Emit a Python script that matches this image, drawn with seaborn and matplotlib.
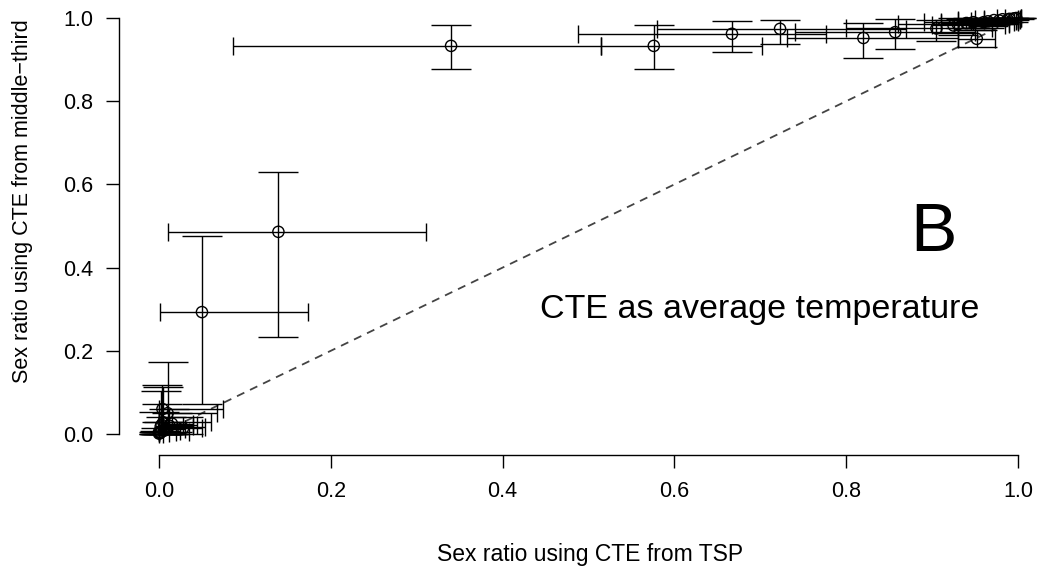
import numpy as np
import pandas as pd
import matplotlib
matplotlib.use("Agg")
import matplotlib.pyplot as plt
import seaborn as sns

# sex ratio estimates (x: CTE from TSP, y: CTE from middle-third) with lower/upper limits
sr_tsp = [0.340, 0.576, 0.667, 0.723, 0.820, 0.857,
          0.905, 0.930, 0.948, 0.960, 0.972, 0.982, 0.990, 0.995, 0.998, 0.952,
          0.925, 0.940, 0.965, 0.978, 0.988,
          0.139, 0.050,
          0.010, 0.003, 0.005, 0.002, 0.000, 0.008, 0.001, 0.028, 0.004, 0.012, 0.000,
          0.006, 0.015, 0.002]
sr_tsp_lo = [0.086, 0.515, 0.488, 0.580, 0.731, 0.740,
             0.800, 0.860, 0.890, 0.910, 0.930, 0.950, 0.960, 0.975, 0.985, 0.930,
             0.900, 0.910, 0.930, 0.945, 0.960,
             0.011, 0.001,
             0.000, 0.000, 0.000, 0.000, 0.000, 0.000, 0.000, 0.005, 0.000, 0.000, 0.000,
             0.000, 0.002, 0.000]
sr_tsp_hi = [0.515, 0.702, 0.776, 0.870, 0.930, 0.950,
             0.970, 0.990, 0.995, 1.000, 1.000, 1.000, 1.002, 1.003, 1.003, 0.973,
             0.985, 0.990, 0.998, 1.000, 1.002,
             0.311, 0.173,
             0.068, 0.044, 0.060, 0.054, 0.035, 0.030, 0.012, 0.050, 0.075, 0.040, 0.005,
             0.025, 0.040, 0.020]
sr_mid = [0.933, 0.933, 0.962, 0.974, 0.952, 0.966,
          0.975, 0.985, 0.990, 0.990, 0.995, 0.997, 0.998, 0.999, 1.000, 0.950,
          0.982, 0.988, 0.992, 0.994, 0.996,
          0.486, 0.293,
          0.050, 0.022, 0.028, 0.018, 0.005, 0.012, 0.002, 0.014, 0.060, 0.020, 0.001,
          0.008, 0.025, 0.004]
sr_mid_lo = [0.878, 0.877, 0.918, 0.937, 0.904, 0.925,
             0.945, 0.960, 0.970, 0.975, 0.985, 0.990, 0.995, 0.997, 0.999, 0.930,
             0.965, 0.975, 0.980, 0.985, 0.990,
             0.233, 0.072,
             0.000, 0.000, 0.000, 0.000, 0.000, 0.000, 0.000, 0.000, 0.030, 0.000, 0.000,
             0.000, 0.005, 0.000]
sr_mid_hi = [0.983, 0.982, 0.993, 0.995, 0.988, 0.997,
             0.995, 1.000, 1.000, 1.000, 1.000, 1.000, 1.000, 1.000, 1.000, 0.970,
             0.995, 0.998, 1.000, 1.000, 1.000,
             0.630, 0.476,
             0.173, 0.118, 0.113, 0.103, 0.053, 0.040, 0.008, 0.040, 0.072, 0.060, 0.005,
             0.030, 0.050, 0.015]

df = pd.DataFrame({"x": sr_tsp, "xlo": sr_tsp_lo, "xhi": sr_tsp_hi,
                   "y": sr_mid, "ylo": sr_mid_lo, "yhi": sr_mid_hi})

sns.set_style("ticks")
plt.rcParams["font.family"] = ["Liberation Sans", "DejaVu Sans"]
plt.rcParams["text.color"] = "black"
plt.rcParams["axes.labelcolor"] = "black"

fig = plt.figure(figsize=(10.42, 5.68), dpi=100)
ax = fig.add_axes([119 / 1042, (568 - 455) / 568, 939 / 1042, 458 / 568])

# 1:1 reference line
ax.plot([0, 1], [0, 1], color="#444444", lw=1.3, ls=(0, (4.5, 3.5)), zorder=1)

xerr = [df["x"] - df["xlo"], df["xhi"] - df["x"]]
yerr = [df["y"] - df["ylo"], df["yhi"] - df["y"]]
ax.errorbar(df["x"], df["y"], xerr=xerr, fmt="none", ecolor="black",
            elinewidth=1.0, capsize=6.8, capthick=1.0, zorder=2)
ax.errorbar(df["x"], df["y"], yerr=yerr, fmt="none", ecolor="black",
            elinewidth=1.0, capsize=14.4, capthick=1.0, zorder=2)
sns.scatterplot(data=df, x="x", y="y", ax=ax, marker="o", s=65,
                facecolor="none", edgecolor="black", linewidth=1.0, zorder=3)

ax.set_xlim(-0.04657, 1.04657)
ax.set_ylim(-0.0505, 1.0505)
ax.set_xticks([0, 0.2, 0.4, 0.6, 0.8, 1.0])
ax.set_yticks([0, 0.2, 0.4, 0.6, 0.8, 1.0])
ax.set_xticklabels(["0.0", "0.2", "0.4", "0.6", "0.8", "1.0"])
ax.set_yticklabels(["0.0", "0.2", "0.4", "0.6", "0.8", "1.0"])
ax.tick_params(direction="out", length=9.4, width=1.0, pad=9.0,
               labelsize=15.5, colors="black")
for s in ["top", "right"]:
    ax.spines[s].set_visible(False)
ax.spines["left"].set_bounds(0, 1)
ax.spines["bottom"].set_bounds(0, 1)
ax.spines["left"].set_linewidth(1.0)
ax.spines["bottom"].set_linewidth(1.0)
ax.spines["left"].set_color("black")
ax.spines["bottom"].set_color("black")
ax.set_xlabel("")
ax.set_ylabel("")

fig.text(590 / 1042, 1 - 554 / 568, "Sex ratio using CTE from TSP",
         ha="center", va="center", fontsize=16.5)
fig.text(23 / 1042, 1 - 201 / 568, "Sex ratio using CTE from middle\u2212third",
         ha="center", va="center", rotation=90, fontsize=15.5)

ax.text(0.901, 0.44, "B", ha="center", va="baseline", fontsize=50)
ax.text(0.6997, 0.279, "CTE as average temperature", ha="center",
        va="baseline", fontsize=24.5)

fig.savefig("out.png", dpi=100)
